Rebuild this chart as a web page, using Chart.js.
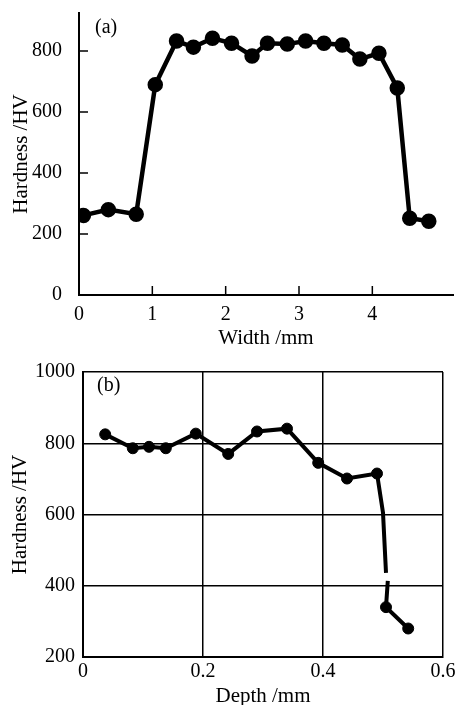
<!DOCTYPE html>
<html>
<head>
<meta charset="utf-8">
<script src="https://cdn.jsdelivr.net/npm/chart.js@4/dist/chart.umd.min.js"></script>
<style>
  html, body { margin: 0; padding: 0; background: #fff; overflow: hidden; }
  #wrap { position: relative; width: 463px; height: 705px; }
  #chartA { position: absolute; left: 0; top: 0; }
  #chartB { position: absolute; left: 0; top: 352px; }
</style>
</head>
<body>
<div id="wrap">
  <canvas id="chartA" width="463" height="352"></canvas>
  <canvas id="chartB" width="463" height="360"></canvas>
</div>
<script>
// ---- (a) hardness across the width ----
const widthMm = [0.06, 0.40, 0.78, 1.04, 1.33, 1.56, 1.82, 2.08, 2.36, 2.57, 2.84, 3.09, 3.34, 3.59, 3.83, 4.09, 4.34, 4.51, 4.77];
const hardA   = [261, 280, 265, 690, 833, 813, 842, 826, 784, 826, 823, 833, 826, 820, 774, 793, 679, 252, 242];
const xTicksA = [0, 1, 2, 3, 4];
const yTicksA = [0, 200, 400, 600, 800];

// ---- (b) hardness versus depth ----
// measured points (drawn with markers)
const depthMm = [0.037, 0.083, 0.11, 0.138, 0.188, 0.242, 0.29, 0.34, 0.392, 0.44, 0.49, 0.505, 0.542];
const hardB   = [825, 786, 790, 786, 827, 770, 833, 841, 745, 701, 715, 340, 280];
// trace of the drawn line, including the steep drop (null = break in the line)
const traceDepth = [0.037, 0.083, 0.11, 0.138, 0.188, 0.242, 0.29, 0.34, 0.392, 0.44, 0.49, 0.5, 0.505, null, 0.508, 0.505, 0.542];
const traceHard  = [825, 786, 790, 786, 827, 770, 833, 841, 745, 701, 715, 605, 436, null, 414, 340, 280];
const xTicksB = [0, 0.2, 0.4, 0.6];
const yTicksB = [200, 400, 600, 800, 1000];

Chart.defaults.font.family = "'Liberation Serif', 'Times New Roman', serif";
Chart.defaults.color = '#000';

function toPoints(xs, ys) {
  return xs.map((x, i) => (x === null ? { x: null, y: null } : { x: x, y: ys[i] }));
}

// small panel label, "(a)" / "(b)"
const panelLabel = {
  id: 'panelLabel',
  afterDraw(chart, args, opts) {
    const ctx = chart.ctx;
    ctx.save();
    ctx.font = "20px 'Liberation Serif', serif";
    ctx.fillStyle = '#000';
    ctx.textBaseline = 'middle';
    ctx.fillText(opts.text, opts.x, opts.y);
    ctx.restore();
  }
};

// tick marks pointing into the plot (panel a)
const innerTicks = {
  id: 'innerTicks',
  afterDraw(chart, args, opts) {
    if (!opts.len) return;
    const ctx = chart.ctx;
    const area = chart.chartArea;
    const sx = chart.scales.x, sy = chart.scales.y;
    ctx.save();
    ctx.strokeStyle = '#000';
    ctx.lineWidth = 1.5;
    ctx.beginPath();
    sx.ticks.forEach(t => {
      if (t.value === 0) return;
      const px = sx.getPixelForValue(t.value);
      ctx.moveTo(px, area.bottom);
      ctx.lineTo(px, area.bottom - opts.len);
    });
    sy.ticks.forEach(t => {
      if (t.value === 0) return;
      const py = sy.getPixelForValue(t.value);
      ctx.moveTo(area.left, py);
      ctx.lineTo(area.left + opts.len, py);
    });
    ctx.stroke();
    ctx.restore();
  }
};

new Chart(document.getElementById('chartA'), {
  type: 'line',
  data: {
    datasets: [{
      data: toPoints(widthMm, hardA),
      borderColor: '#000',
      backgroundColor: '#000',
      borderWidth: 4.5,
      pointRadius: 5.5,
      pointHoverRadius: 5.5,
      tension: 0
    }]
  },
  options: {
    responsive: false,
    animation: false,
    layout: { padding: { top: 13, right: 0, left: 0, bottom: 0 } },
    plugins: {
      legend: { display: false },
      tooltip: { enabled: false },
      panelLabel: { text: '(a)', x: 95, y: 28 },
      innerTicks: { len: 9 }
    },
    scales: {
      x: {
        type: 'linear',
        min: 0,
        max: 5.1,
        afterBuildTicks: s => { s.ticks = xTicksA.map(v => ({ value: v })); },
        afterFit: s => { s.height = 57; s.paddingLeft = 0; s.paddingRight = 0; },
        grid: { display: false },
        border: { color: '#000', width: 2 },
        ticks: { font: { size: 20 }, padding: 0, maxRotation: 0 },
        title: { display: true, text: 'Width /mm', font: { size: 21 }, padding: { top: 0, bottom: 1 } }
      },
      y: {
        min: 0,
        max: 925,
        afterBuildTicks: s => { s.ticks = yTicksA.map(v => ({ value: v })); },
        afterFit: s => { s.width = 79; s.paddingTop = 0; s.paddingBottom = 0; },
        grid: { display: false },
        border: { color: '#000', width: 2 },
        ticks: { font: { size: 20 }, padding: 9 },
        title: { display: true, text: 'Hardness /HV', font: { size: 21 }, padding: { top: 9, bottom: 0 } }
      }
    }
  },
  plugins: [panelLabel, innerTicks]
});

new Chart(document.getElementById('chartB'), {
  type: 'line',
  data: {
    datasets: [{
      data: toPoints(traceDepth, traceHard),
      borderColor: '#000',
      borderWidth: 4,
      pointRadius: 0,
      spanGaps: false,
      tension: 0
    }, {
      data: toPoints(depthMm, hardB),
      showLine: false,
      borderColor: '#000',
      backgroundColor: '#000',
      pointRadius: 5.5,
      pointHoverRadius: 5.5
    }]
  },
  options: {
    responsive: false,
    animation: false,
    layout: { padding: { top: 13, right: 20, left: 0, bottom: 0 } },
    plugins: {
      legend: { display: false },
      tooltip: { enabled: false },
      panelLabel: { text: '(b)', x: 97, y: 34 },
      innerTicks: { len: 0 }
    },
    scales: {
      x: {
        type: 'linear',
        min: 0,
        max: 0.6,
        afterBuildTicks: s => { s.ticks = xTicksB.map(v => ({ value: v })); },
        afterFit: s => { s.height = 55; },
        grid: { drawTicks: false, color: '#000', lineWidth: 1.5 },
        border: { color: '#000', width: 2 },
        ticks: { font: { size: 20 }, padding: 3, maxRotation: 0, callback: v => String(v) },
        title: { display: true, text: 'Depth /mm', font: { size: 21 }, padding: { top: 0, bottom: 3 } }
      },
      y: {
        min: 200,
        max: 1000,
        afterBuildTicks: s => { s.ticks = yTicksB.map(v => ({ value: v })); },
        afterFit: s => { s.width = 83; },
        grid: { drawTicks: false, color: '#000', lineWidth: 1.5 },
        border: { color: '#000', width: 2 },
        ticks: { font: { size: 20 }, padding: 8, callback: v => String(v) },
        title: { display: true, text: 'Hardness /HV', font: { size: 21 }, padding: { top: 8, bottom: 0 } }
      }
    }
  },
  plugins: [panelLabel, innerTicks]
});
</script>
</body>
</html>
